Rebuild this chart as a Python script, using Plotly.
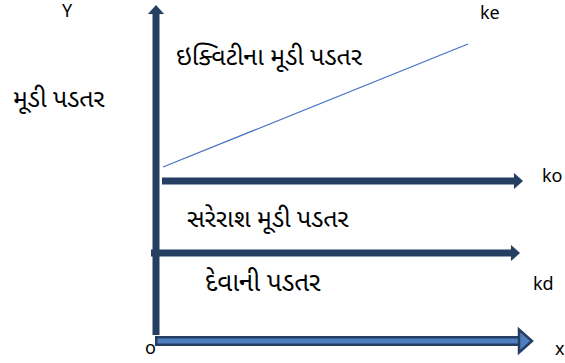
import plotly.graph_objects as go

# ---- data (diagram coordinates: origin at the axes' corner) ----
ke_x = [7, 312]
ke_y = [174, 297]

ko_x = [6, 367]
ko_y = [160, 160]

kd_x = [-5, 364]
kd_y = [88, 88]

xaxis_x = [-1, 376]
xaxis_y = [0, 0]

yaxis_x = [0, 0]
yaxis_y = [6, 336]

label_text = ["Y", "મૂડી પડતર", "ke", "ઇક્વિટીના મૂડી પડતર", "ko",
              "સરેરાશ મૂડી પડતર", "દેવાની પડતર", "kd", "o", "x"]
label_x = [-89, -97, 334, 113, 396, 112, 107, 387, -6, 404]
label_y = [329, 241, 327, 283, 164, 121, 57, 56, -8, -9]
label_size = [18, 25, 18, 25, 18, 25, 26, 18, 18, 18]

DARK = "#253F62"
LIGHT = "#4F7FBF"
LINE = "#4472C4"
FONT = "Noto Sans Gujarati, Noto Sans, Liberation Sans, sans-serif"

fig = go.Figure()

def arrow_right(xs, ys, w, head_len, head_h, fill, edge, edge_w=0):
    if edge_w:
        fig.add_trace(go.Scatter(x=[xs[0], xs[1] - head_len], y=ys, mode="lines",
                                 line=dict(color=edge, width=w + 2 * edge_w),
                                 hoverinfo="skip", showlegend=False))
    fig.add_trace(go.Scatter(x=[xs[0] + (edge_w or 0), xs[1] - head_len + 1], y=ys, mode="lines",
                             line=dict(color=fill, width=w),
                             hoverinfo="skip", showlegend=False))
    tx, ty = xs[1], ys[1]
    bx = tx - head_len
    path = f"M {bx},{ty - head_h/2} L {tx},{ty} L {bx},{ty + head_h/2} Z"
    fig.add_shape(type="path", path=path, xref="x", yref="y",
                  fillcolor=fill, line=dict(color=edge, width=edge_w if edge_w else 0.1))

# Y axis
fig.add_trace(go.Scatter(x=yaxis_x, y=[yaxis_y[0], yaxis_y[1] - 8], mode="lines",
                         line=dict(color=DARK, width=7), hoverinfo="skip", showlegend=False))
tx, ty = yaxis_x[1], yaxis_y[1]
fig.add_shape(type="path", path=f"M {tx-8},{ty-9} L {tx},{ty} L {tx+8},{ty-9} Z",
              xref="x", yref="y", fillcolor=DARK, line=dict(color=DARK, width=0.1))

# X axis (light fill with dark border)
arrow_right(xaxis_x, xaxis_y, 5, 13, 23, LIGHT, DARK, edge_w=2.5)

# ko and kd lines
arrow_right(ko_x, ko_y, 7, 9, 16, DARK, DARK)
arrow_right(kd_x, kd_y, 7, 9, 16, DARK, DARK)

# ke line
fig.add_trace(go.Scatter(x=ke_x, y=ke_y, mode="lines", line=dict(color=LINE, width=1.2),
                         hoverinfo="skip", showlegend=False))

for t, x, y, s in zip(label_text, label_x, label_y, label_size):
    fig.add_annotation(x=x, y=y, text=t, showarrow=False, xref="x", yref="y",
                       font=dict(family=FONT, size=s, color="#000000"))

fig.update_layout(
    width=565, height=363,
    margin=dict(l=0, r=0, t=0, b=0),
    paper_bgcolor="white", plot_bgcolor="white",
    xaxis=dict(range=[-156, 409], visible=False, fixedrange=True),
    yaxis=dict(range=[-22, 341], visible=False, fixedrange=True),
)

fig.write_html("out.html", config={"displayModeBar": False},
               post_script="document.body.style.margin='0';document.body.style.overflow='hidden';")
